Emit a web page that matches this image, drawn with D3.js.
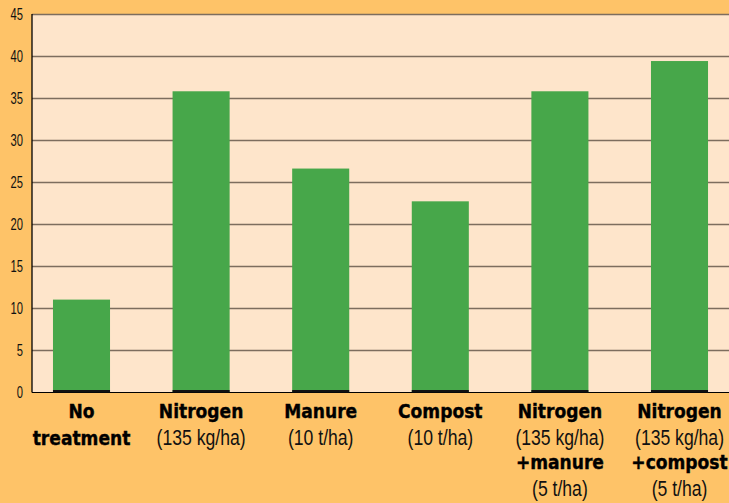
<!DOCTYPE html>
<html>
<head>
<meta charset="utf-8">
<script src="https://cdn.jsdelivr.net/npm/d3@7"></script>
<style>
  html,body{margin:0;padding:0;background:#fec368;}
  svg{display:block;}
  .tick-label{font-family:"Liberation Sans",sans-serif;font-size:16px;fill:#111;}
  .lbl-b{font-family:"DejaVu Sans Condensed","DejaVu Sans",sans-serif;font-stretch:condensed;font-weight:bold;font-size:19px;fill:#000;stroke:#000;stroke-width:0.35px;}
  .lbl-r{font-family:"Liberation Sans",sans-serif;font-size:22px;fill:#111;}
</style>
</head>
<body>
<div class="visHolder"></div>
<script>
// data
const categories=["none","nitrogen","manure","compost","nitroManure","nitroCompost"];
const values=[11,35.8,26.6,22.7,35.8,39.4];
const labelLines=[
  ["No","treatment"],
  ["Nitrogen","(135 kg/ha)"],
  ["Manure","(10 t/ha)"],
  ["Compost","(10 t/ha)"],
  ["Nitrogen","(135 kg/ha)","+manure","(5 t/ha)"],
  ["Nitrogen","(135 kg/ha)","+compost","(5 t/ha)"]
];
const yTicks=[0,5,10,15,20,25,30,35,40,45];

const w=729,h=503;
const plotLeft=32,plotTop=14,plotBottom=392;
const narrow=0.8; // squeeze regular text to look condensed

const svg=d3.select(".visHolder")
.append("svg")
.attr("width",w)
.attr("height",h);

const xScale=d3.scaleBand().domain(categories).range([21.7,739.3]).paddingInner(0.523).paddingOuter(0.2615);
const yScale=d3.scaleLinear().domain([0,45]).range([plotBottom,plotTop]);

// plot area
svg.append("rect")
.attr("x",plotLeft)
.attr("y",plotTop)
.attr("width",w-plotLeft)
.attr("height",plotBottom-plotTop)
.attr("fill","#fee5cb");

// gridlines via axis
const yAxis=d3.axisLeft(yScale).tickValues(yTicks).tickSize(-(w-plotLeft)).tickFormat(d=>d);
const gy=svg.append("g")
.attr("id","y-axis")
.attr("transform","translate("+plotLeft+",0)")
.call(yAxis);
gy.select(".domain").remove();
gy.selectAll(".tick line")
.attr("stroke",d=>d===0?"#000":"#7d6d5e")
.attr("stroke-width",d=>d===0?1.2:1.6);
gy.selectAll(".tick text")
.attr("class","tick-label")
.attr("transform","scale(0.7,1)")
.attr("x",-9/0.7)
.attr("dy","0.36em");

// left axis line
svg.append("line")
.attr("x1",plotLeft).attr("x2",plotLeft)
.attr("y1",plotTop).attr("y2",plotBottom+0.5)
.attr("stroke","#000")
.attr("stroke-width",1.3);

// bars
svg.selectAll("rect.bar")
.data(values)
.enter()
.append("rect")
.attr("class","bar")
.attr("x",(d,i)=>xScale(categories[i]))
.attr("y",d=>yScale(d))
.attr("width",xScale.bandwidth())
.attr("height",d=>plotBottom-yScale(d))
.attr("fill","#47a74a");

// dark foot under each bar
svg.selectAll("line.foot")
.data(values)
.enter()
.append("line")
.attr("class","foot")
.attr("x1",(d,i)=>xScale(categories[i]))
.attr("x2",(d,i)=>xScale(categories[i])+xScale.bandwidth())
.attr("y1",plotBottom-0.8)
.attr("y2",plotBottom-0.8)
.attr("stroke","#111")
.attr("stroke-width",2.4);

// category labels
const lab=svg.selectAll("g.lab")
.data(labelLines)
.enter()
.append("g")
.attr("class","lab")
.attr("transform",(d,i)=>"translate("+(xScale(categories[i])+xScale.bandwidth()/2)+",0)");

lab.selectAll("text")
.data(d=>d)
.enter()
.append("text")
.attr("class",d=>d.startsWith("(")?"lbl-r":"lbl-b")
.attr("text-anchor","middle")
.attr("transform",d=>d.startsWith("(")?"scale("+narrow+",1)":null)
.attr("x",0)
.attr("y",(d,j)=>418+j*25.5+(j%2?1.5:0))
.text(d=>d);
</script>
</body>
</html>
